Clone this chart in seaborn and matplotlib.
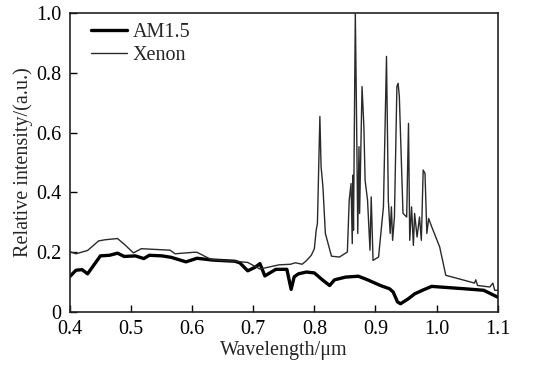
import seaborn as sns
import pandas as pd
import matplotlib.pyplot as plt

# Values
am15_wl = [0.400, 0.410, 0.420, 0.429, 0.450, 0.465, 0.478, 0.489, 0.507, 0.521,
           0.530, 0.551, 0.566, 0.590, 0.608, 0.634, 0.670, 0.678, 0.691, 0.703,
           0.711, 0.719, 0.737, 0.755, 0.762, 0.767, 0.774, 0.787, 0.800, 0.813,
           0.825, 0.833, 0.851, 0.872, 0.887, 0.908, 0.923, 0.929, 0.936, 0.941,
           0.954, 0.964, 0.979, 0.992, 1.005, 1.046, 1.077, 1.100]
am15_int = [0.119, 0.140, 0.142, 0.128, 0.188, 0.190, 0.197, 0.186, 0.188, 0.179,
            0.190, 0.188, 0.183, 0.168, 0.180, 0.174, 0.170, 0.165, 0.138, 0.150,
            0.162, 0.121, 0.143, 0.143, 0.076, 0.118, 0.128, 0.134, 0.131, 0.108,
            0.089, 0.108, 0.117, 0.120, 0.108, 0.089, 0.078, 0.067, 0.034, 0.028,
            0.045, 0.061, 0.075, 0.086, 0.084, 0.078, 0.073, 0.050]

xenon_wl = [0.400, 0.410, 0.429, 0.447, 0.458, 0.478, 0.490, 0.504, 0.517, 0.564,
            0.572, 0.603, 0.608, 0.631, 0.670, 0.691, 0.711, 0.742, 0.761, 0.769,
            0.780, 0.787, 0.795, 0.800, 0.803, 0.805, 0.809, 0.811, 0.814, 0.818,
            0.828, 0.841, 0.854, 0.857, 0.860, 0.862, 0.863, 0.864, 0.867, 0.869,
            0.871, 0.873, 0.874, 0.878, 0.881, 0.883, 0.887, 0.891, 0.893, 0.896,
            0.905, 0.913, 0.918, 0.921, 0.924, 0.926, 0.928, 0.931, 0.935, 0.937,
            0.939, 0.945, 0.951, 0.954, 0.956, 0.959, 0.962, 0.964, 0.968, 0.972,
            0.975, 0.978, 0.981, 0.984, 0.987, 0.992, 1.005, 1.015, 1.026, 1.046,
            1.062, 1.064, 1.067, 1.087, 1.092, 1.095, 1.100]
xenon_int = [0.202, 0.195, 0.206, 0.238, 0.242, 0.246, 0.225, 0.198, 0.212, 0.207,
             0.195, 0.200, 0.200, 0.176, 0.170, 0.166, 0.144, 0.158, 0.160, 0.165,
             0.160, 0.172, 0.190, 0.212, 0.274, 0.296, 0.654, 0.486, 0.419, 0.263,
             0.187, 0.184, 0.201, 0.374, 0.430, 0.229, 0.458, 0.274, 1.000, 0.654,
             0.263, 0.553, 0.330, 0.754, 0.620, 0.441, 0.374, 0.207, 0.385, 0.173,
             0.184, 0.352, 0.855, 0.374, 0.263, 0.352, 0.240, 0.318, 0.754, 0.765,
             0.721, 0.330, 0.318, 0.631, 0.240, 0.352, 0.223, 0.330, 0.251, 0.318,
             0.240, 0.475, 0.464, 0.263, 0.313, 0.285, 0.218, 0.123, 0.117, 0.106,
             0.097, 0.108, 0.089, 0.084, 0.097, 0.073, 0.073]

x_ticks = [0.4, 0.5, 0.6, 0.7, 0.8, 0.9, 1.0, 1.1]
y_ticks = [0, 0.2, 0.4, 0.6, 0.8, 1.0]
y_labels = ["0", "0.2", "0.4", "0.6", "0.8", "1.0"]

am15 = pd.DataFrame({"wl": am15_wl, "intensity": am15_int})
xenon = pd.DataFrame({"wl": xenon_wl, "intensity": xenon_int})

sns.set_theme(style="ticks")
plt.rcParams["font.family"] = ["Liberation Serif", "DejaVu Serif"]

fig = plt.figure(figsize=(5.5, 3.72), dpi=100)
ax = fig.add_axes([0.127, 0.161, 0.778, 0.804])

sns.lineplot(data=am15, x="wl", y="intensity", ax=ax, color="black",
             linewidth=2.4, label="AM1.5", sort=False)
sns.lineplot(data=xenon, x="wl", y="intensity", ax=ax, color="#2a2a2a",
             linewidth=1.0, label="Xenon", sort=False)

ax.set_xlim(0.4, 1.1)
ax.set_ylim(0, 1.0)
ax.set_xticks(x_ticks)
ax.set_xticklabels([f"{v:.1f}" for v in x_ticks])
ax.set_yticks(y_ticks)
ax.set_yticklabels(y_labels)
ax.tick_params(direction="in", length=5, width=1, labelsize=14.5, colors="black",
               top=False, right=False)
ax.tick_params(axis="x", pad=6)
ax.tick_params(axis="y", pad=6)
for s in ax.spines.values():
    s.set_linewidth(1.2)
    s.set_color("#222222")

ax.set_xlabel("Wavelength/μm", fontsize=14.5, labelpad=1)
ax.set_ylabel("Relative intensity/(a.u.)", fontsize=14.5, labelpad=2)

ax.legend(loc="upper left", bbox_to_anchor=(0.025, 1.0), frameon=False,
          fontsize=14.5, handlelength=1.8, handletextpad=0.3, labelspacing=0.2,
          borderaxespad=0.1)

fig.savefig("out.png", dpi=100)
